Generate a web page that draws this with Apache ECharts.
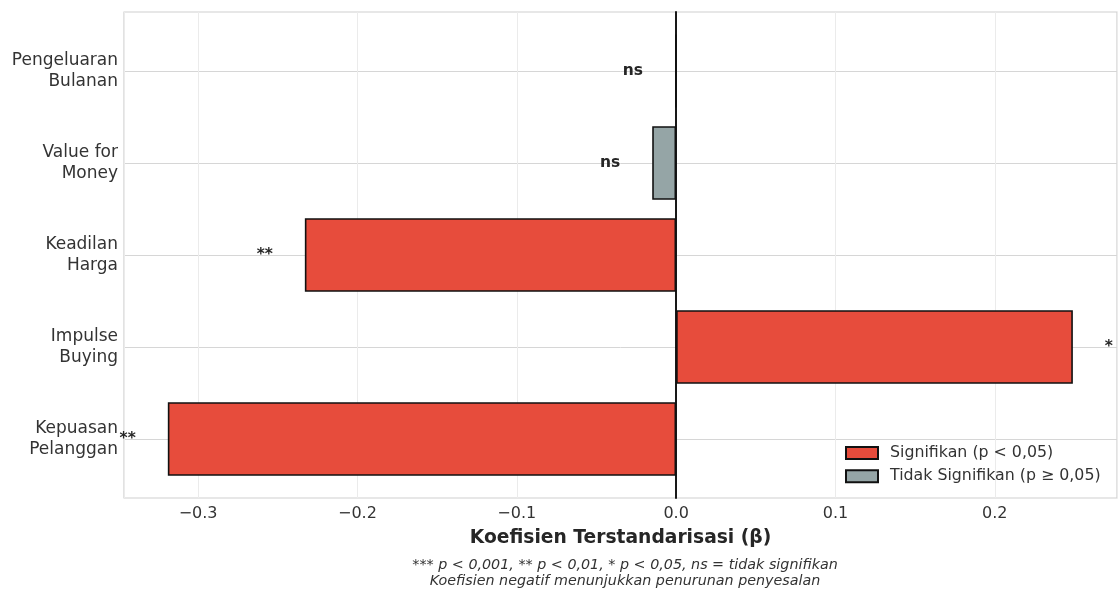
<!DOCTYPE html>
<html>
<head>
<meta charset="utf-8">
<script src="https://cdn.jsdelivr.net/npm/echarts@6/dist/echarts.min.js"></script>
<style>
  html, body { margin: 0; padding: 0; background: #fff; }
  #chart { width: 1118px; height: 589px; }
</style>
</head>
<body>
<div id="chart"></div>
<script>
// urutan dari bawah ke atas
const categories = ['Kepuasan\nPelanggan', 'Impulse\nBuying', 'Keadilan\nHarga', 'Value for\nMoney', 'Pengeluaran\nBulanan']
const betaValues = [-0.319, 0.249, -0.233, -0.015, -0.0003]
const sigMarks = ['**', '*', '**', 'ns', 'ns']
const isSignificant = [true, true, true, false, false]
const xMin = -0.3465
const xMax = 0.2767

const FONT = 'DejaVu Sans'
const TEXT = '#333333'

function barData(sig) {
    return betaValues.map((v, i) => {
        if (isSignificant[i] !== sig) return '-'
        return { value: v, label: { position: v < 0 ? 'left' : 'right' } }
    })
}

const labelStyle = {
    show: true,
    distance: 32,
    fontFamily: FONT,
    fontSize: 15.5,
    fontWeight: 'bold',
    color: '#262626',
    formatter: p => sigMarks[p.dataIndex]
}

const myChart = echarts.init(document.getElementById('chart'), null, { renderer: 'canvas' })

myChart.setOption({
    backgroundColor: '#ffffff',
    animation: false,
    textStyle: { fontFamily: FONT },
    title: {
        text: '*** p < 0,001, ** p < 0,01, * p < 0,05, ns = tidak signifikan\nKoefisien negatif menunjukkan penurunan penyesalan',
        left: 620,
        top: 552,
        textAlign: 'center',
        textStyle: { fontFamily: FONT, fontSize: 14.3, fontStyle: 'italic', fontWeight: 'normal', color: TEXT, lineHeight: 16.5 }
    },
    legend: {
        orient: 'vertical',
        left: 840,
        top: 440,
        icon: 'rect',
        itemWidth: 32,
        itemHeight: 12,
        itemGap: 7.3,
        textStyle: { fontFamily: FONT, fontSize: 15.8, color: TEXT, padding: [0, 0, 0, 7] },
        data: ['Signifikan (p < 0,05)', 'Tidak Signifikan (p ≥ 0,05)']
    },
    grid: [
        // bingkai + grid vertikal
        { left: 124, right: 1, top: 12, bottom: 91, show: true, borderColor: '#d0d0d0', borderWidth: 1.2, backgroundColor: 'transparent' },
        // batang
        { left: 124, right: 1, top: 25, bottom: 104 }
    ],
    xAxis: [
        {
            gridIndex: 0, type: 'value', min: xMin, max: xMax,
            axisLine: { show: false }, axisTick: { show: false },
            axisLabel: {
                color: TEXT, fontSize: 16, margin: 8, showMinLabel: false, showMaxLabel: false,
                formatter: v => {
                    const r = Math.round(v * 10) / 10
                    if (Math.abs(r - v) > 1e-6) return ''
                    return (r < 0 ? '\u2212' + Math.abs(r).toFixed(1) : r.toFixed(1))
                }
            },
            splitLine: { show: true, lineStyle: { color: '#ebebeb', width: 1 } },
            name: 'Koefisien Terstandarisasi (β)',
            nameLocation: 'middle',
            nameGap: 40,
            nameTextStyle: { fontFamily: FONT, fontSize: 18.7, fontWeight: 'bold', color: '#262626', verticalAlign: 'middle' }
        },
        {
            gridIndex: 1, type: 'value', min: xMin, max: xMax, show: false
        }
    ],
    yAxis: [
        {
            gridIndex: 0, type: 'value', min: 0, max: 1,
            axisLine: { show: true, onZero: true, lineStyle: { color: '#000', width: 1.8 } },
            axisTick: { show: false }, axisLabel: { show: false }, splitLine: { show: false }
        },
        {
            gridIndex: 1, type: 'category', data: categories,
            axisLine: { show: false }, axisTick: { show: false },
            axisLabel: { color: TEXT, fontSize: 17, lineHeight: 20.5, margin: 6, align: 'right', padding: [6, 0, 0, 0] },
            splitLine: { show: true, alignWithLabel: true, lineStyle: { color: '#d6d6d6', width: 1 } }
        }
    ],
    series: [
        {
            name: 'Signifikan (p < 0,05)',
            type: 'bar', xAxisIndex: 1, yAxisIndex: 1,
            barWidth: '80%', barGap: '-100%',
            itemStyle: { color: '#e74c3c', borderColor: '#111', borderWidth: 1.6 },
            label: labelStyle,
            data: barData(true)
        },
        {
            name: 'Tidak Signifikan (p ≥ 0,05)',
            type: 'bar', xAxisIndex: 1, yAxisIndex: 1,
            barWidth: '80%', barGap: '-100%',
            itemStyle: { color: '#95a5a6', borderColor: '#111', borderWidth: 1.6 },
            label: labelStyle,
            data: barData(false)
        }
    ]
})

window.addEventListener('resize', () => myChart.resize())
</script>
</body>
</html>
